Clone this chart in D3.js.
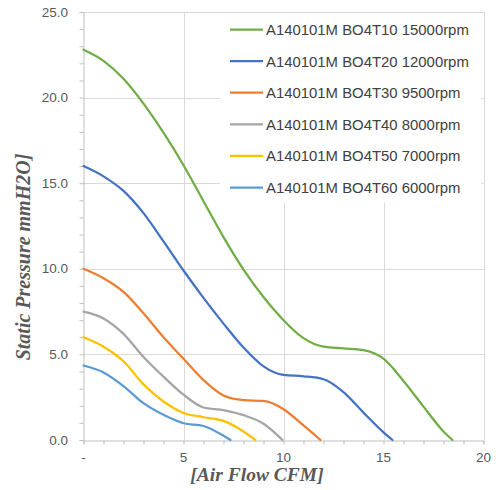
<!DOCTYPE html>
<html>
<head>
<meta charset="utf-8">
<script src="https://cdn.jsdelivr.net/npm/d3@7"></script>
<style>
  html, body { margin: 0; padding: 0; background: #fff; }
  svg { display: block; }
</style>
</head>
<body>
<svg id="chart" width="499" height="490"></svg>
<script>
// ---- data ----
const seriesNames = [
  "A140101M BO4T10 15000rpm",
  "A140101M BO4T20 12000rpm",
  "A140101M BO4T30 9500rpm",
  "A140101M BO4T40 8000rpm",
  "A140101M BO4T50 7000rpm",
  "A140101M BO4T60 6000rpm"
];
const seriesColors = ["#70AD47", "#4472C4", "#ED7D31", "#A5A5A5", "#FFC000", "#5B9BD5"];

const flowT10 = [0, 1, 2, 3, 4, 5, 6, 7, 8, 9, 10, 11, 12, 13, 14, 15, 16, 17, 18, 18.45];
const presT10 = [22.8, 22.15, 21.1, 19.65, 17.95, 16.05, 13.95, 11.85, 9.95, 8.35, 7.0, 5.95, 5.45, 5.35, 5.25, 4.75, 3.45, 1.95, 0.5, 0];

const flowT20 = [0, 1, 2, 3, 4, 5, 6, 7, 8, 9, 10, 11, 12, 13, 14, 15, 15.45];
const presT20 = [16.0, 15.4, 14.55, 13.25, 11.6, 9.9, 8.3, 6.8, 5.4, 4.3, 3.8, 3.72, 3.55, 2.8, 1.6, 0.45, 0];

const flowT30 = [0, 1, 2, 3, 4, 5, 6, 7, 8, 9, 10, 11, 11.85];
const presT30 = [10.0, 9.45, 8.65, 7.4, 6.0, 4.75, 3.5, 2.6, 2.33, 2.28, 1.8, 0.85, 0];

const flowT40 = [0, 1, 2, 3, 4, 5, 6, 7, 8, 9, 9.95];
const presT40 = [7.5, 7.1, 6.2, 4.85, 3.7, 2.65, 1.9, 1.75, 1.45, 0.95, 0];

const flowT50 = [0, 1, 2, 3, 4, 5, 6, 7, 8, 8.6];
const presT50 = [6.0, 5.45, 4.6, 3.25, 2.25, 1.58, 1.33, 1.12, 0.5, 0];

const flowT60 = [0, 1, 2, 3, 4, 5, 6, 7, 7.35];
const presT60 = [4.35, 3.95, 3.15, 2.15, 1.47, 0.98, 0.82, 0.25, 0];

const xTickValues = [0, 5, 10, 15, 20];
const xTickLabels = ["-", "5", "10", "15", "20"];
const yTickValues = [0, 5, 10, 15, 20, 25];
const yTickLabels = ["0.0", "5.0", "10.0", "15.0", "20.0", "25.0"];

const xTitle = "[Air Flow CFM]";
const yTitle = "Static Pressure mmH2O]";

const flows = [flowT10, flowT20, flowT30, flowT40, flowT50, flowT60];
const pressures = [presT10, presT20, presT30, presT40, presT50, presT60];

// ---- layout ----
const svg = d3.select("#chart");
const plot = { left: 83.5, right: 483.5, top: 12, bottom: 440 };

const x = d3.scaleLinear().domain([0, 20]).range([plot.left, plot.right]);
const y = d3.scaleLinear().domain([0, 25]).range([plot.bottom, plot.top]);

const gridColor = "#d9d9d9";
const axisColor = "#bfbfbf";
const labelColor = "#595959";

// gridlines
const grid = svg.append("g");
grid.selectAll("line.h").data(yTickValues.filter(v => v > 0)).join("line")
  .attr("x1", plot.left).attr("x2", plot.right)
  .attr("y1", d => Math.round(y(d)) + 0.5).attr("y2", d => Math.round(y(d)) + 0.5)
  .attr("stroke", gridColor).attr("stroke-width", 1);
grid.selectAll("line.v").data(xTickValues.filter(v => v > 0)).join("line")
  .attr("y1", plot.top).attr("y2", plot.bottom)
  .attr("x1", d => Math.round(x(d)) + 0.5).attr("x2", d => Math.round(x(d)) + 0.5)
  .attr("stroke", gridColor).attr("stroke-width", 1);

// axes
const xAxis = d3.axisBottom(x).tickValues(d3.range(0, 21, 1)).tickSize(4).tickFormat("");
const gx = svg.append("g").attr("transform", `translate(0,${plot.bottom + 0.5})`).call(xAxis);
gx.select(".domain").attr("stroke", axisColor);
gx.selectAll(".tick line").attr("stroke", axisColor);

const yAxis = d3.axisLeft(y).tickValues(d3.range(0, 26, 1)).tickSize(4).tickFormat("");
const gy = svg.append("g").attr("transform", `translate(${plot.left},0)`).call(yAxis);
gy.select(".domain").attr("stroke", axisColor);
gy.selectAll(".tick line").attr("stroke", axisColor);

// tick labels
svg.append("g").selectAll("text").data(xTickValues).join("text")
  .attr("x", d => x(d)).attr("y", 462)
  .attr("text-anchor", "middle")
  .attr("font-family", "Liberation Sans, Arial, sans-serif")
  .attr("font-size", 13.5).attr("fill", labelColor)
  .text((d, i) => xTickLabels[i]);

svg.append("g").selectAll("text").data(yTickValues).join("text")
  .attr("x", 68).attr("y", d => y(d) + 4.5)
  .attr("text-anchor", "end")
  .attr("font-family", "Liberation Sans, Arial, sans-serif")
  .attr("font-size", 13.5).attr("fill", labelColor)
  .text((d, i) => yTickLabels[i]);

// axis titles
svg.append("text")
  .attr("x", 257).attr("y", 481)
  .attr("text-anchor", "middle")
  .attr("font-family", "Liberation Serif, Times New Roman, serif")
  .attr("font-weight", "bold").attr("font-style", "italic")
  .attr("font-size", 19.5).attr("fill", labelColor)
  .text(xTitle);

svg.append("text")
  .attr("transform", "translate(30,257) rotate(-90)")
  .attr("text-anchor", "middle")
  .attr("font-family", "Liberation Serif, Times New Roman, serif")
  .attr("font-weight", "bold").attr("font-style", "italic")
  .attr("font-size", 20).attr("fill", labelColor)
  .text(yTitle);

// lines
const line = d3.line()
  .x(d => x(d[0])).y(d => y(d[1]))
  .curve(d3.curveMonotoneX);

const seriesData = seriesNames.map((name, i) => ({
  name, color: seriesColors[i],
  points: flows[i].map((f, j) => [f, pressures[i][j]])
}));

svg.append("g").selectAll("path").data(seriesData).join("path")
  .attr("d", d => line(d.points))
  .attr("fill", "none")
  .attr("stroke", d => d.color)
  .attr("stroke-width", 2.25)
  .attr("stroke-linecap", "round")
  .attr("stroke-linejoin", "round");

// legend
const legend = svg.append("g");
legend.append("rect")
  .attr("x", 220).attr("y", 13).attr("width", 261).attr("height", 190)
  .attr("fill", "#fff");
const rowY0 = 29.5, rowStep = 31.6;
const items = legend.selectAll("g.item").data(seriesData).join("g")
  .attr("transform", (d, i) => `translate(0,${rowY0 + i * rowStep})`);
items.append("line")
  .attr("x1", 230).attr("x2", 263).attr("y1", 0).attr("y2", 0)
  .attr("stroke", d => d.color).attr("stroke-width", 2.25);
items.append("text")
  .attr("x", 266).attr("y", 5.5)
  .attr("font-family", "Liberation Sans, Arial, sans-serif")
  .attr("font-size", 14.9).attr("fill", "#404040")
  .text(d => d.name);
</script>
</body>
</html>
